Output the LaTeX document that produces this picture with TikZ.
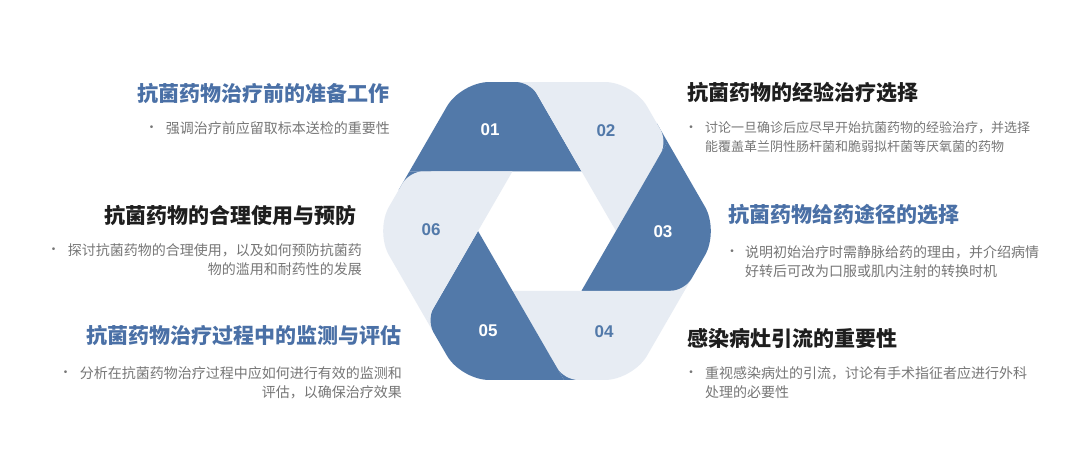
\documentclass[tikz,border=0pt]{standalone}
\usepackage{fontspec}
\setmainfont{Noto Sans CJK SC}
\newfontfamily\numfont{Liberation Sans}
\usetikzlibrary{calc}
\definecolor{dk}{HTML}{5279A9}
\definecolor{lt}{HTML}{E7ECF3}
\definecolor{ttl}{HTML}{4A70A6}
\definecolor{txt}{HTML}{767676}
\definecolor{ink}{HTML}{1E1E1E}
\tikzset{
  ttlL/.style={anchor=east, inner sep=0pt, font=\fontsize{21}{25}\selectfont\bfseries},
  ttlR/.style={anchor=west, inner sep=0pt, font=\fontsize{21}{25}\selectfont\bfseries},
  desc/.style={inner sep=0pt, text=txt, font=\fontsize{14}{19}\selectfont},
  descL/.style={desc, anchor=north east, align=right},
  descR/.style={desc, anchor=north west, align=left},
  bul/.style={inner sep=0pt, text=txt, font=\numfont\fontsize{10}{12}\selectfont},
  num/.style={inner sep=0pt, font=\numfont\bfseries\fontsize{17}{20}\selectfont}
}
\begin{document}
\begin{tikzpicture}[x=1pt,y=1pt]
\useasboundingbox (0,0) rectangle (1080,-467);
\fill[white] (0,0) rectangle (1080,-467);
\def\R{172}
\def\r{69}
\pgfmathsetmacro\h{\r*sqrt(3)/2}
\pgfmathsetmacro\H{\R*sqrt(3)/2}
\coordinate (C) at (547,-231);
% wedges under the rounded 120-degree corners
\foreach \k/\ca in {0/dk,1/lt,2/dk,3/lt,4/dk,5/lt}{
  \begin{scope}[shift={(C)}, rotate=-60*\k]
    \fill[\ca] (\r/2-\R,\h) -- (\r/2-\R-11,\h-19) -- (\r/2-\R+22,\h) -- cycle;
  \end{scope}
}
% pieces
\foreach \k/\ca/\lab/\lc in {0/dk/01/white,1/lt/02/dk,2/dk/03/white,3/lt/04/dk,4/dk/05/white,5/lt/06/dk}{
  \begin{scope}[shift={(C)}, rotate=-60*\k]
    \fill[\ca] (\r/2,\h) [rounded corners=14pt] -- (\r-\R/2,\H) [rounded corners=28pt] -- (-\R/2,\H) [sharp corners] -- (\r/2-\R,\h) -- cycle;
    \node[num, text=\lc] (n\lab) at (-57,101) {\lab};
  \end{scope}
}
% left column
\node[ttlL, text=ttl] (t01) at (390,-93) {抗菌药物治疗前的准备工作};
\node[descL] (d01) at (390,-121) {强调治疗前应留取标本送检的重要性};
\node[bul] (b01) at ($(d01.north west)+(-14,-7)$) {•};
\node[ttlL, text=ink] (t06) at (357,-215) {抗菌药物的合理使用与预防};
\node[descL] (d06) at (362,-243) {探讨抗菌药物的合理使用，以及如何预防抗菌药\\物的滥用和耐药性的发展};
\node[bul] (b06) at ($(d06.north west)+(-14,-7)$) {•};
\node[ttlL, text=ttl] (t05) at (402,-335) {抗菌药物治疗过程中的监测与评估};
\node[descL] (d05) at (402,-366) {分析在抗菌药物治疗过程中应如何进行有效的监测和\\评估，以确保治疗效果};
\node[bul] (b05) at ($(d05.north west)+(-14,-7)$) {•};
% right column
\node[ttlR, text=ink] (t02) at (687,-93) {抗菌药物的经验治疗选择};
\node[descR, font=\fontsize{13}{19}\selectfont] (d02) at (705,-121) {讨论一旦确诊后应尽早开始抗菌药物的经验治疗，并选择\\能覆盖革兰阴性肠杆菌和脆弱拟杆菌等厌氧菌的药物};
\node[bul] (b02) at ($(d02.north west)+(-14,-7)$) {•};
\node[ttlR, text=ttl] (t03) at (728,-215) {抗菌药物给药途径的选择};
\node[descR] (d03) at (745,-245) {说明初始治疗时需静脉给药的理由，并介绍病情\\好转后可改为口服或肌内注射的转换时机};
\node[bul] (b03) at ($(d03.north west)+(-13,-7)$) {•};
\node[ttlR, text=ink] (t04) at (687,-338) {感染病灶引流的重要性};
\node[descR] (d04) at (705,-366) {重视感染病灶的引流，讨论有手术指征者应进行外科\\处理的必要性};
\node[bul] (b04) at ($(d04.north west)+(-14,-7)$) {•};
\end{tikzpicture}
\end{document}
